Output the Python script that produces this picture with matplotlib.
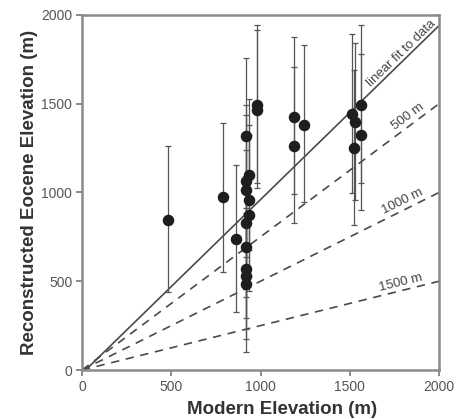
import math

import matplotlib
matplotlib.use("Agg")
import matplotlib.pyplot as plt

plt.rcParams["font.family"] = ["Liberation Sans", "DejaVu Sans"]

# modern elevation (m), reconstructed Eocene elevation (m), error bar extents (m)
modern = [479, 789, 864,
          920, 935, 920, 920, 935, 935, 920, 920, 920, 920, 920,
          978, 978,
          1190, 1190, 1242,
          1512, 1531, 1563, 1563, 1525]
eocene = [843, 974, 736,
          1320, 1101, 1064, 1013, 957, 876, 826, 693, 571, 530, 487,
          1494, 1466,
          1425, 1264, 1382,
          1444, 1395, 1494, 1326, 1251]
err_low = [406, 422, 409,
           437, 427, 429, 425, 425, 430, 416, 400, 340, 356, 384,
           440, 440,
           436, 434, 436,
           446, 440, 440, 427, 435]
err_high = [421, 417, 417,
            437, 427, 429, 425, 425, 450, 416, 400, 340, 356, 384,
            452, 450,
            453, 442, 449,
            449, 446, 450, 453, 440]

fit_slope = 0.98
fit_intercept = -20
fit_label = "linear fit to data"

uplift_levels = [500, 1000, 1500]
uplift_labels = ["500 m", "1000 m", "1500 m"]
uplift_label_pos = [(1827, 1430), (1795, 947), (1788, 492)]

ticks = [0, 500, 1000, 1500, 2000]
x_max = 2000

fig = plt.figure(figsize=(4.71, 4.19), dpi=100)
ax = fig.add_axes([82 / 471, 1 - 370 / 419, 357 / 471, 355 / 419])

line_col = "#4a4a4a"

# linear fit
x_start = 12
ax.plot([x_start, x_max],
        [fit_slope * x_start + fit_intercept, fit_slope * x_max + fit_intercept],
        color=line_col, lw=1.2, zorder=2)
ax.text(1790, 1785, fit_label, rotation=44, ha="center", va="center",
        fontsize=9.5, color="#444444")

# constant-uplift reference lines
for level, label, pos in zip(uplift_levels, uplift_labels, uplift_label_pos):
    frac = (x_max - level) / x_max
    ax.plot([0, x_max], [0, frac * x_max], color=line_col, lw=1.2,
            ls=(0, (5, 4)), zorder=2)
    ang = math.degrees(math.atan(frac * (355 / 357)))
    ax.text(pos[0], pos[1], label, rotation=ang, ha="center", va="center",
            fontsize=9.5, color="#444444")

ax.errorbar(modern, eocene, yerr=[err_low, err_high], fmt="none",
            ecolor="#555555", elinewidth=0.9, capsize=2.5, capthick=0.9, zorder=3)
ax.plot(modern, eocene, "o", color="#1e1e1e", markersize=7.3, zorder=4)

ax.set_xlim(0, x_max)
ax.set_ylim(0, 2000)
ax.set_xticks(ticks)
ax.set_yticks(ticks)
ax.tick_params(direction="out", length=4, width=1.2, color="#777777",
               labelsize=10, labelcolor="#555555", pad=3)
for s in ax.spines.values():
    s.set_color("#8a8a8a")
    s.set_linewidth(1.8)

ax.set_xlabel("Modern Elevation (m)", fontsize=13.5, fontweight="bold",
              color="#333333", labelpad=5, x=0.56)
ax.set_ylabel("Reconstructed Eocene Elevation (m)", fontsize=13.5,
              fontweight="bold", color="#333333", labelpad=2)

fig.savefig("out.png", dpi=100)
